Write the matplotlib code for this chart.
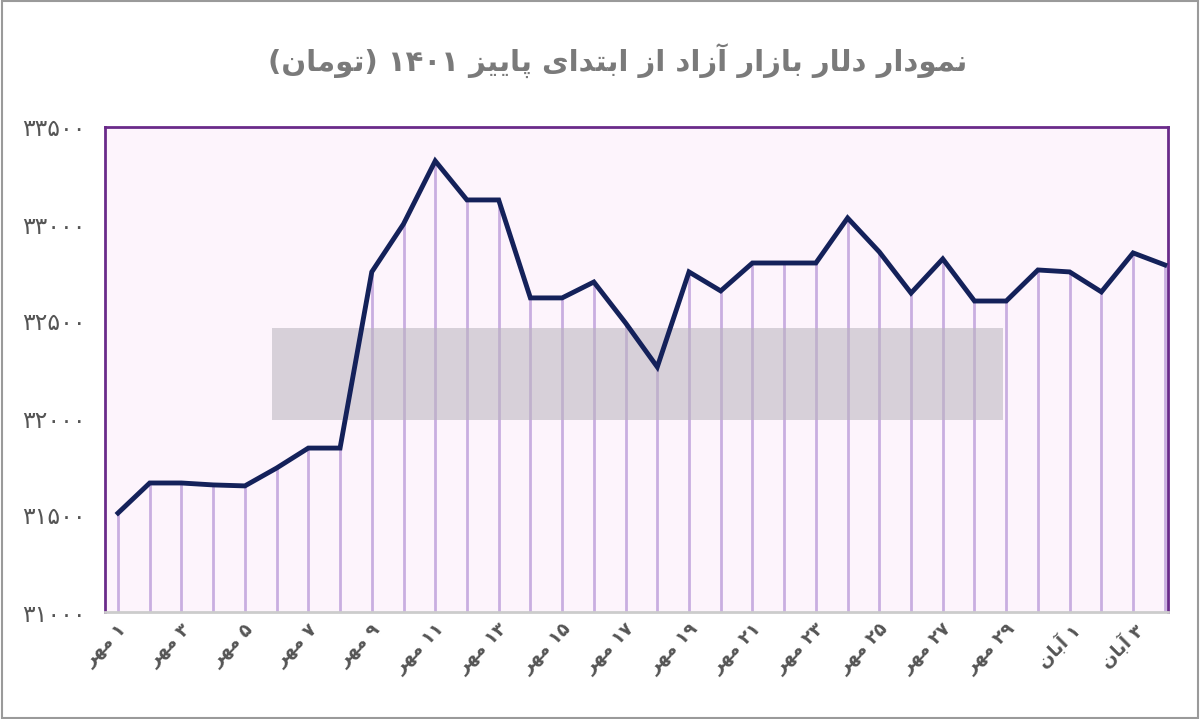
import matplotlib
matplotlib.use("Agg")
import matplotlib.pyplot as plt
from matplotlib.patches import Rectangle

# ---- minimal Persian shaping (presentation forms) ----
FORMS = {  # iso, fin, ini, med
    'ا': ('\uFE8D', '\uFE8E', None, None), 'آ': ('\uFE81', '\uFE82', None, None),
    'ب': ('\uFE8F', '\uFE90', '\uFE91', '\uFE92'), 'پ': ('\uFB56', '\uFB57', '\uFB58', '\uFB59'),
    'ت': ('\uFE95', '\uFE96', '\uFE97', '\uFE98'), 'د': ('\uFEA9', '\uFEAA', None, None),
    'ر': ('\uFEAD', '\uFEAE', None, None), 'ز': ('\uFEAF', '\uFEB0', None, None),
    'ل': ('\uFEDD', '\uFEDE', '\uFEDF', '\uFEE0'), 'م': ('\uFEE1', '\uFEE2', '\uFEE3', '\uFEE4'),
    'ن': ('\uFEE5', '\uFEE6', '\uFEE7', '\uFEE8'), 'و': ('\uFEED', '\uFEEE', None, None),
    'ه': ('\uFEE9', '\uFEEA', '\uFEEB', '\uFEEC'), 'ی': ('\uFBFC', '\uFBFD', '\uFBFE', '\uFBFF'),
}
PD = '۰۱۲۳۴۵۶۷۸۹'

def shape_word(w):
    out = []
    for i, c in enumerate(w):
        if c not in FORMS:
            out.append(c); continue
        prev = w[i-1] if i > 0 else None
        nxt = w[i+1] if i+1 < len(w) else None
        jp = prev in FORMS and FORMS[prev][2] is not None
        jn = nxt in FORMS and FORMS[c][2] is not None
        iso, fin, ini, med = FORMS[c]
        if jp and jn: out.append(med)
        elif jp: out.append(fin)
        elif jn: out.append(ini)
        else: out.append(iso)
    return out

def fa(text):
    vis = []
    for w in text.split(' '):
        if all(ch in PD for ch in w):
            vis.append(w)
        else:
            s = shape_word(w)[::-1]
            s = [{'(': ')', ')': '('}.get(ch, ch) for ch in s]
            vis.append(''.join(s))
    return ' '.join(vis[::-1])

def pdig(n):
    return ''.join(PD[int(d)] for d in str(n))

# ---- data ----
dates = ["۱ مهر", "۲ مهر", "۳ مهر", "۴ مهر", "۵ مهر", "۶ مهر", "۷ مهر", "۸ مهر", "۹ مهر", "۱۰ مهر",
         "۱۱ مهر", "۱۲ مهر", "۱۳ مهر", "۱۴ مهر", "۱۵ مهر", "۱۶ مهر", "۱۷ مهر", "۱۸ مهر", "۱۹ مهر", "۲۰ مهر",
         "۲۱ مهر", "۲۲ مهر", "۲۳ مهر", "۲۴ مهر", "۲۵ مهر", "۲۶ مهر", "۲۷ مهر", "۲۸ مهر", "۲۹ مهر", "۳۰ مهر",
         "۱ آبان", "۲ آبان", "۳ آبان", "۴ آبان"]
values = [31510, 31665, 31665, 31655, 31650, 31742, 31845, 31845, 32753, 33000,
          33325, 33124, 33124, 32619, 32619, 32701, 32490, 32263, 32753, 32655,
          32799, 32799, 32799, 33031, 32856, 32644, 32820, 32603, 32603, 32763,
          32753, 32650, 32851, 32789]
yticks = [31000, 31500, 32000, 32500, 33000, 33500]
title = "نمودار دلار بازار آزاد از ابتدای پاییز ۱۴۰۱ (تومان)"

plt.rcParams['font.family'] = ['DejaVu Sans']
fig = plt.figure(figsize=(12, 7.19), dpi=100)
fig.patch.set_facecolor('white')
fig.add_artist(Rectangle((0.002, 0.002), 0.996, 0.996, transform=fig.transFigure,
                         fill=False, edgecolor='#9a9a9a', lw=1.5))
ax = fig.add_axes([105/1200, 1-612/719, (1168-105)/1200, (612-127)/719])
ax.set_facecolor('#fdf4fc')
x = list(range(len(values)))
ax.vlines(x, 31000, values, color='#c9aee0', lw=2, zorder=2)
ax.plot(x, values, color='#14215a', lw=3.5, zorder=4, solid_joinstyle='miter')
ax.set_xlim(-0.41, 33.1)
ax.set_ylim(31000, 33500)
ax.add_patch(Rectangle((4.86, 31990), 23.05, 474, facecolor='#b9b4bd', alpha=0.55,
                       edgecolor='none', zorder=3))
for s in ax.spines.values():
    s.set_color('#6a2a8a'); s.set_linewidth(2)
ax.spines['bottom'].set_color('#cccccc')
ax.set_yticks(yticks)
ax.set_yticklabels([pdig(v) for v in yticks], fontsize=17, color='#555555')
ax.tick_params(axis='y', length=0, pad=14)
ax.set_xticks(x[::2])
ax.set_xticklabels([fa(d) for d in dates[::2]], rotation=45, ha='right',
                   rotation_mode='anchor', fontsize=13, fontweight='bold', color='#555555')
ax.tick_params(axis='x', length=0, pad=6)
fig.text(0.515, 0.915, fa(title), ha='center', va='center', fontsize=21,
         fontweight='bold', color='#7a7a7a')
fig.savefig('out.png', dpi=100)
